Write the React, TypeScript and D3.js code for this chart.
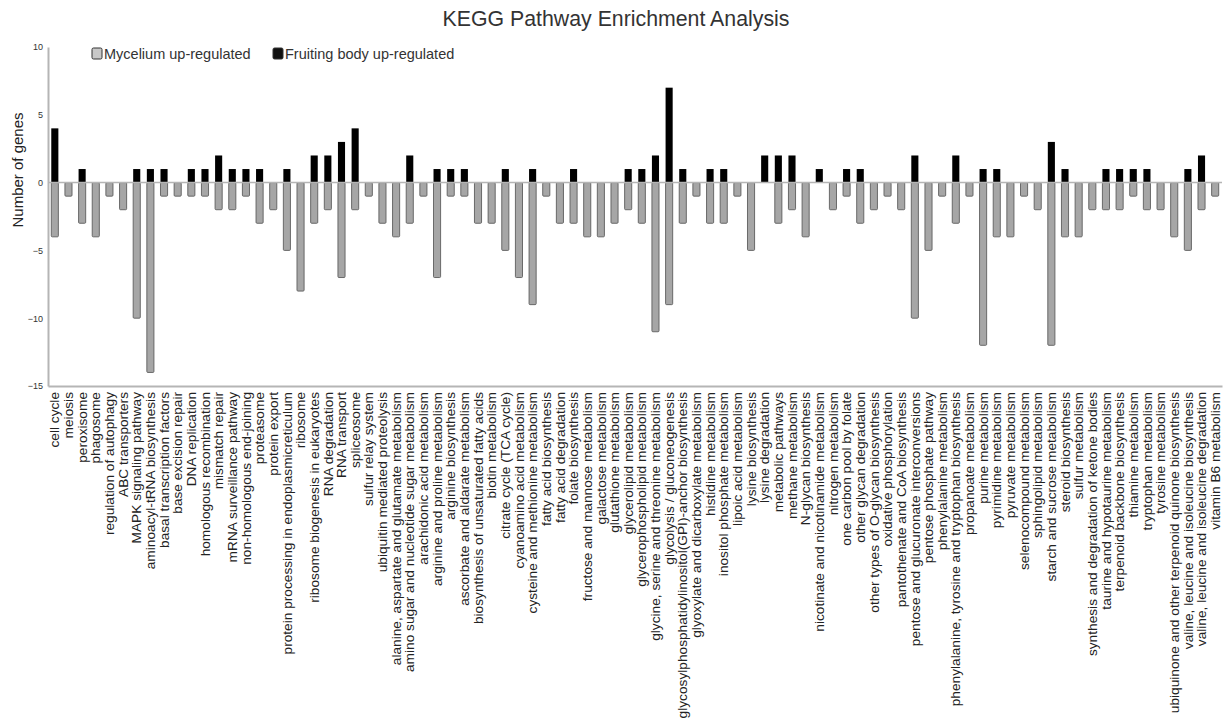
import { useEffect, useRef } from "react";
import * as d3 from "d3";

const categories = [
  "cell cycle",
  "meiosis",
  "peroxisome",
  "phagosome",
  "regulation of autophagy",
  "ABC transporters",
  "MAPK signaling pathway",
  "aminoacyl-tRNA biosynthesis",
  "basal transcription factors",
  "base excision repair",
  "DNA replication",
  "homologous recombination",
  "mismatch repair",
  "mRNA surveillance pathway",
  "non-homologous end-joining",
  "proteasome",
  "protein export",
  "protein processing in endoplasmicreticulum",
  "ribosome",
  "ribosome biogenesis in eukaryotes",
  "RNA degradation",
  "RNA transport",
  "spliceosome",
  "sulfur relay system",
  "ubiquitin mediated proteolysis",
  "alanine, aspartate and glutamate metabolism",
  "amino sugar and nucleotide sugar metabolism",
  "arachidonic acid metabolism",
  "arginine and proline metabolism",
  "arginine biosynthesis",
  "ascorbate and aldarate metabolism",
  "biosynthesis of unsaturated fatty acids",
  "biotin metabolism",
  "citrate cycle (TCA cycle)",
  "cyanoamino acid metabolism",
  "cysteine and methionine metabolism",
  "fatty acid biosynthesis",
  "fatty acid degradation",
  "folate biosynthesis",
  "fructose and mannose metabolism",
  "galactose metabolism",
  "glutathione metabolism",
  "glycerolipid metabolism",
  "glycerophospholipid metabolism",
  "glycine, serine and threonine metabolism",
  "glycolysis / gluconeogenesis",
  "glycosylphosphatidylinositol(GPI)-anchor biosynthesis",
  "glyoxylate and dicarboxylate metabolism",
  "histidine metabolism",
  "inositol phosphate metabolism",
  "lipoic acid metabolism",
  "lysine biosynthesis",
  "lysine degradation",
  "metabolic pathways",
  "methane metabolism",
  "N-glycan biosynthesis",
  "nicotinate and nicotinamide metabolism",
  "nitrogen metabolism",
  "one carbon pool by folate",
  "other glycan degradation",
  "other types of O-glycan biosynthesis",
  "oxidative phosphorylation",
  "pantothenate and CoA biosynthesis",
  "pentose and glucuronate interconversions",
  "pentose phosphate pathway",
  "phenylalanine metabolism",
  "phenylalanine, tyrosine and tryptophan biosynthesis",
  "propanoate metabolism",
  "purine metabolism",
  "pyrimidine metabolism",
  "pyruvate metabolism",
  "selenocompound metabolism",
  "sphingolipid metabolism",
  "starch and sucrose metabolism",
  "steroid biosynthesis",
  "sulfur metabolism",
  "synthesis and degradation of ketone bodies",
  "taurine and hypotaurine metabolism",
  "terpenoid backbone biosynthesis",
  "thiamine metabolism",
  "tryptophan metabolism",
  "tyrosine metabolism",
  "ubiquinone and other terpenoid quinone biosynthesis",
  "valine, leucine and isoleucine biosynthesis",
  "valine, leucine and isoleucine degradation",
  "vitamin B6 metabolism",
];

// Fruiting body up-regulated (plotted upward)
const fruiting = [
  4, 0, 1, 0, 0, 0, 1, 1, 1, 0, 1, 1, 2, 1, 1, 1, 0, 1, 0, 2, 2, 3, 4, 0, 0, 0, 2, 0, 1, 1, 1, 0, 0, 1, 0, 1, 0, 0, 1, 0, 0, 0, 1, 1, 2, 7, 1, 0, 1, 1, 0, 0, 2, 2, 2, 0, 1, 0, 1, 1, 0, 0, 0, 2, 0, 0, 2, 0, 1, 1, 0, 0, 0, 3, 1, 0, 0, 1, 1, 1, 1, 0, 0, 1, 2, 0,
];

// Mycelium up-regulated (plotted downward)
const mycelium = [
  4, 1, 3, 4, 1, 2, 10, 14, 1, 1, 1, 1, 2, 2, 1, 3, 2, 5, 8, 3, 2, 7, 2, 1, 3, 4, 3, 1, 7, 1, 1, 3, 3, 5, 7, 9, 1, 3, 3, 4, 4, 3, 2, 3, 11, 9, 3, 1, 3, 3, 1, 5, 0, 3, 2, 4, 0, 2, 1, 3, 2, 1, 2, 10, 5, 1, 3, 1, 12, 4, 4, 1, 2, 12, 4, 4, 2, 2, 2, 1, 2, 2, 4, 5, 2, 1,
];

const yTicks = [10, 5, 0, -5, -10, -15];

export default function App() {
  const chartRef = useRef<SVGSVGElement | null>(null);

  useEffect(() => {
    if (!chartRef.current) return;
    const svg = d3.select(chartRef.current);
    svg.selectAll("*").remove();

    const width = 1232;
    const height = 721;
    const margin = { top: 47, right: 10, bottom: 335, left: 48 };
    const font = "Liberation Sans, Arial, sans-serif";
    const axisColor = "#b5b5b5";

    const x = d3
      .scaleBand()
      .domain(categories)
      .range([margin.left, width - margin.right])
      .paddingInner(0.48)
      .paddingOuter(0.24);

    const y = d3
      .scaleLinear()
      .domain([-15, 10])
      .range([height - margin.bottom, margin.top]);

    // title
    svg
      .append("text")
      .attr("x", width / 2)
      .attr("y", 25.5)
      .attr("text-anchor", "middle")
      .attr("font-family", font)
      .attr("font-size", 21.3)
      .attr("fill", "#333")
      .text("KEGG Pathway Enrichment Analysis");

    // y axis title
    svg
      .append("text")
      .attr("transform", `translate(23,170) rotate(-90)`)
      .attr("text-anchor", "middle")
      .attr("font-family", font)
      .attr("font-size", 15)
      .attr("fill", "#222")
      .text("Number of genes");

    // mycelium bars (down)
    svg
      .append("g")
      .selectAll("rect")
      .data(categories.map((c, i) => ({ c, v: mycelium[i] })).filter((d) => d.v > 0))
      .join("rect")
      .attr("x", (d) => x(d.c) ?? 0)
      .attr("y", y(0))
      .attr("width", x.bandwidth())
      .attr("height", (d) => y(-d.v) - y(0))
      .attr("rx", 1)
      .attr("fill", "#a6a6a6")
      .attr("stroke", "#5e5e5e")
      .attr("stroke-width", 0.9);

    // fruiting body bars (up)
    svg
      .append("g")
      .selectAll("rect")
      .data(categories.map((c, i) => ({ c, v: fruiting[i] })).filter((d) => d.v > 0))
      .join("rect")
      .attr("x", (d) => x(d.c) ?? 0)
      .attr("y", (d) => y(d.v))
      .attr("width", x.bandwidth())
      .attr("height", (d) => y(0) - y(d.v))
      .attr("fill", "#000");

    // zero line
    svg
      .append("line")
      .attr("x1", margin.left)
      .attr("x2", width - margin.right)
      .attr("y1", y(0))
      .attr("y2", y(0))
      .attr("stroke", axisColor)
      .attr("stroke-width", 1.5);

    // y axis
    const yAxis = svg
      .append("g")
      .attr("transform", `translate(${margin.left},0)`)
      .call(
        d3
          .axisLeft(y)
          .tickValues(yTicks)
          .tickSize(0)
          .tickPadding(5)
          .tickFormat(d3.format("d"))
      );
    yAxis.select(".domain").attr("stroke", axisColor).attr("stroke-width", 2);
    yAxis
      .selectAll("text")
      .attr("font-family", font)
      .attr("font-size", 9)
      .attr("fill", "#333");

    // x axis
    const xAxis = svg
      .append("g")
      .attr("transform", `translate(0,${y(-15)})`)
      .call(d3.axisBottom(x).tickSize(0).tickPadding(6));
    xAxis.select(".domain").attr("stroke", axisColor).attr("stroke-width", 2);
    xAxis
      .selectAll("text")
      .attr("font-family", font)
      .attr("font-size", 13.7)
      .attr("fill", "#222")
      .attr("transform", "rotate(-90)")
      .attr("dy", "0.34em")
      .attr("x", -6)
      .attr("y", 0)
      .style("text-anchor", "end");

    // legend
    const legend = [
      { label: "Mycelium up-regulated", fill: "#c8c8c8", x: 92 },
      { label: "Fruiting body up-regulated", fill: "#111", x: 273 },
    ];
    const lg = svg.append("g").selectAll("g").data(legend).join("g")
      .attr("transform", (d) => `translate(${d.x},48)`);
    lg.append("rect")
      .attr("width", 10)
      .attr("height", 11)
      .attr("rx", 1.5)
      .attr("fill", (d) => d.fill)
      .attr("stroke", "#333")
      .attr("stroke-width", 1);
    lg.append("text")
      .attr("x", 12)
      .attr("y", 10.5)
      .attr("font-family", font)
      .attr("font-size", 14.5)
      .attr("fill", "#333")
      .text((d) => d.label);
  }, []);

  return (
    <svg
      ref={chartRef}
      width="1232"
      height="721"
      style={{ position: "absolute", left: 0, top: 0, background: "#fff" }}
    />
  );
}
